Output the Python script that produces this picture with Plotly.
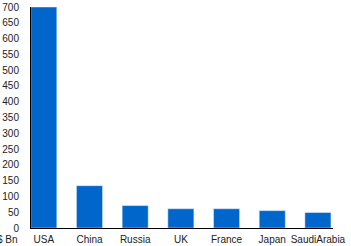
import plotly.graph_objects as go

countries = ["USA", "China", "Russia", "UK", "France", "Japan", "SaudiArabia"]
spending = [700, 134, 71, 61, 61, 55, 49]
y_ticks = list(range(0, 701, 50))

fig = go.Figure(go.Bar(x=countries, y=spending, marker_color="#0066cc", width=0.57))

fig.update_layout(
    width=351, height=246,
    margin=dict(l=31, r=18, t=7, b=18),
    paper_bgcolor="white", plot_bgcolor="white",
    font=dict(family="Liberation Sans, Arial, sans-serif", size=10, color="#222"),
    showlegend=False,
    xaxis=dict(range=[-0.28, 6.33], showline=True, linecolor="black", linewidth=1,
               ticks="", showgrid=False, ticklabelstandoff=2, tickangle=0,
               automargin=False),
    yaxis=dict(range=[0, 700], tickvals=y_ticks, showline=True, linecolor="black",
               linewidth=1, ticks="", showgrid=False, zeroline=False,
               ticklabelstandoff=9, automargin=False),
    annotations=[dict(text="$ Bn", xref="paper", yref="paper", x=-0.036, y=-0.054,
                      xanchor="right", yanchor="middle", showarrow=False)],
)

fig.write_html("out.html")
